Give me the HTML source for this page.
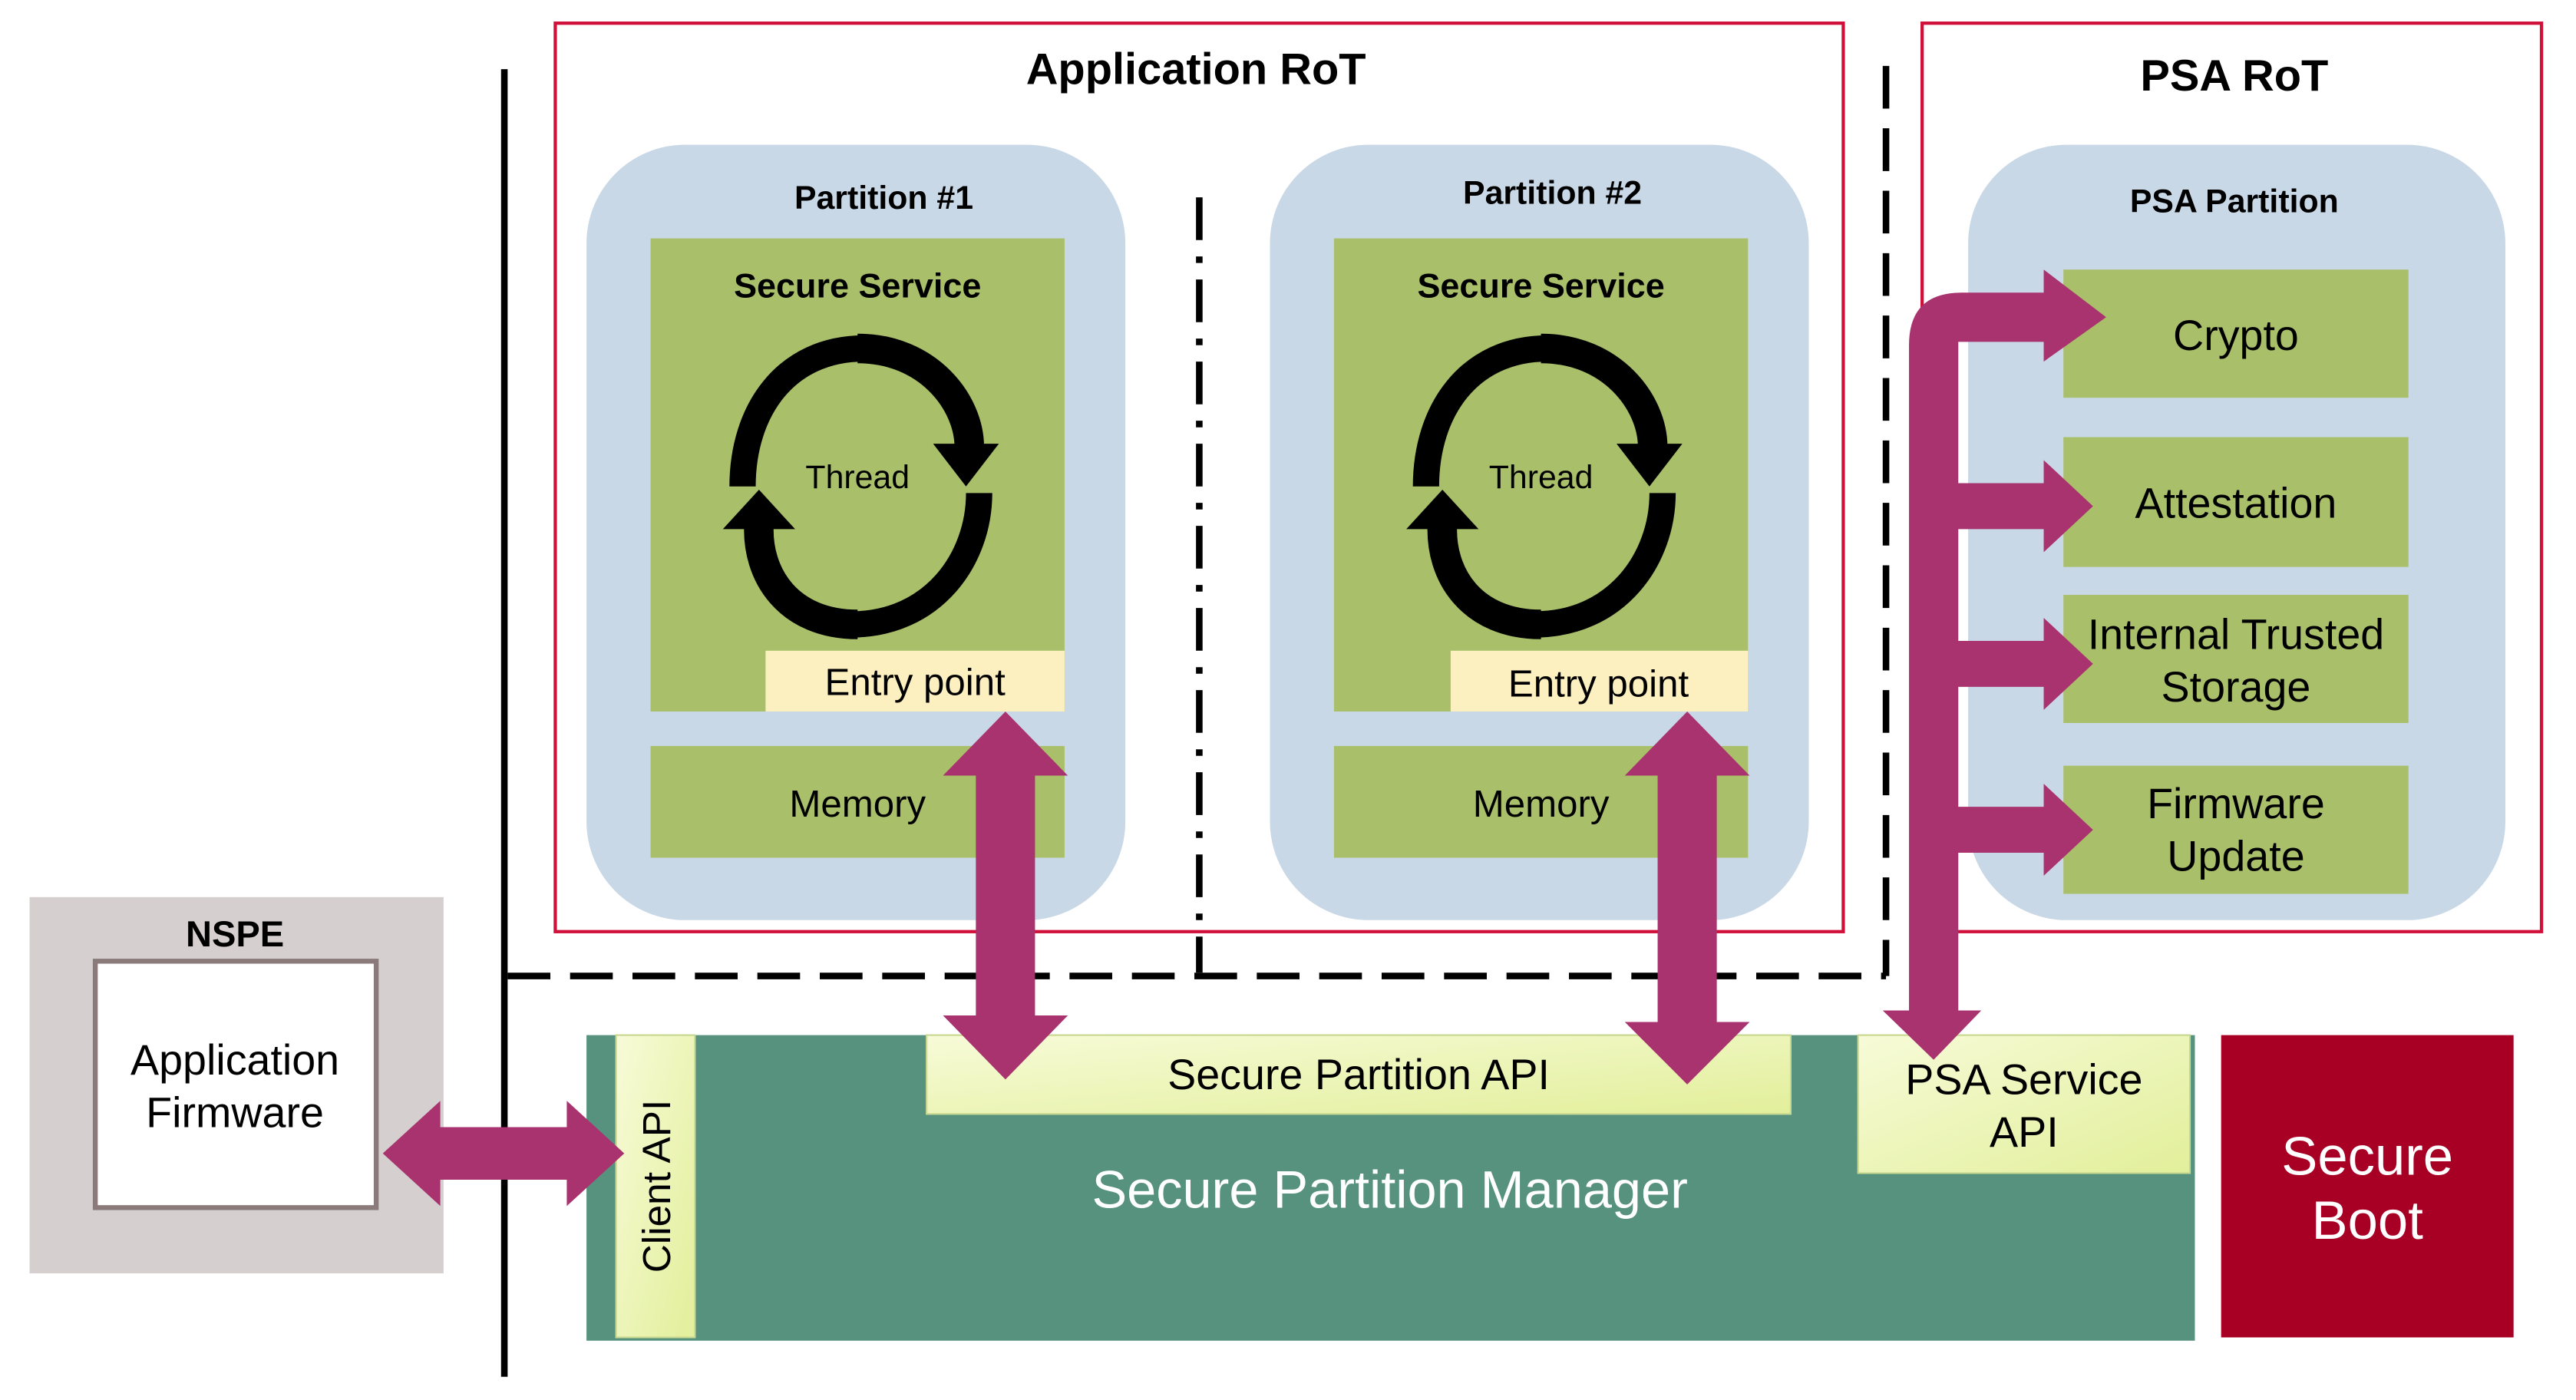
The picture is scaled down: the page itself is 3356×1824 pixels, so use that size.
<!DOCTYPE html>
<html><head><meta charset="utf-8"><style>
html,body{margin:0;padding:0;background:#fff}
svg{display:block}
text{font-family:"Liberation Sans",Arial,sans-serif}
</style></head><body>
<svg width="3356" height="1824" viewBox="0 0 1568 852" xmlns="http://www.w3.org/2000/svg">
<defs>
<linearGradient id="lg" x1="0" y1="0" x2="1" y2="1">
<stop offset="0" stop-color="#f7fbd8"/><stop offset="1" stop-color="#e2ef9a"/></linearGradient>
</defs>
<rect width="1568" height="852" fill="#fff"/>
<rect x="338" y="14" width="784" height="553" fill="none" stroke="#d0103a" stroke-width="2"/>
<text x="728" y="51" font-size="27" font-weight="bold" text-anchor="middle">Application RoT</text>
<rect x="1170" y="14" width="377" height="553" fill="none" stroke="#d0103a" stroke-width="2"/>
<text x="1360" y="55" font-size="27" font-weight="bold" text-anchor="middle">PSA RoT</text>
<line x1="307" y1="42" x2="307" y2="838" stroke="#000" stroke-width="4"/>
<line x1="730" y1="120" x2="730" y2="592" stroke="#000" stroke-width="4" stroke-dasharray="26,10,4,10"/>
<line x1="309" y1="594" x2="1148" y2="594" stroke="#000" stroke-width="4" stroke-dasharray="26,12"/>
<line x1="1148" y1="40" x2="1148" y2="594" stroke="#000" stroke-width="4" stroke-dasharray="26,12"/>
<g>
<rect x="357" y="88" width="328" height="472" rx="60" fill="#c9d8e6"/>
<text x="538" y="127" font-size="20" font-weight="bold" text-anchor="middle">Partition #1</text>
<rect x="396" y="145" width="252" height="288" fill="#a9bf6a"/>
<text x="522" y="181" font-size="21" font-weight="bold" text-anchor="middle">Secure Service</text>
<rect x="466" y="396" width="182" height="37" fill="#fdf0c0"/>
<text x="557" y="423" font-size="23" text-anchor="middle">Entry point</text>
<rect x="396" y="454" width="252" height="68" fill="#a9bf6a"/>
<text x="522" y="497" font-size="23" text-anchor="middle">Memory</text>
</g>
<g>
<rect x="773" y="88" width="328" height="472" rx="60" fill="#c9d8e6"/>
<text x="945" y="124" font-size="20" font-weight="bold" text-anchor="middle">Partition #2</text>
<rect x="812" y="145" width="252" height="288" fill="#a9bf6a"/>
<text x="938" y="181" font-size="21" font-weight="bold" text-anchor="middle">Secure Service</text>
<rect x="883" y="396" width="181" height="37" fill="#fdf0c0"/>
<text x="973" y="424" font-size="23" text-anchor="middle">Entry point</text>
<rect x="812" y="454" width="252" height="68" fill="#a9bf6a"/>
<text x="938" y="497" font-size="23" text-anchor="middle">Memory</text>
</g>
<g id="th1">
<path d="M522 212 C565 212 590 245 590 272" fill="none" stroke="#000" stroke-width="18"/>
<polygon points="568,270 608,270 588,296" fill="#000"/>
<path d="M522 380 C480 380 460 350 462 318" fill="none" stroke="#000" stroke-width="18"/>
<polygon points="440,322 484,322 462,298" fill="#000"/>
<path d="M526 212 C478 212 452 250 452 296" fill="none" stroke="#000" stroke-width="16"/>
<path d="M518 380 C568 380 596 340 596 300" fill="none" stroke="#000" stroke-width="16"/>
<text x="522" y="297" font-size="20" text-anchor="middle">Thread</text>
</g>
<use href="#th1" x="416"/>
<rect x="1198" y="88" width="327" height="472" rx="60" fill="#c9d8e6"/>
<text x="1360" y="129" font-size="20" font-weight="bold" text-anchor="middle">PSA Partition</text>
<rect x="1256" y="164" width="210" height="78" fill="#a9bf6a"/>
<text x="1361" y="213" font-size="26" text-anchor="middle">Crypto</text>
<rect x="1256" y="266" width="210" height="79" fill="#a9bf6a"/>
<text x="1361" y="315" font-size="26" text-anchor="middle">Attestation</text>
<rect x="1256" y="362" width="210" height="78" fill="#a9bf6a"/>
<text x="1361" y="395" font-size="26" text-anchor="middle">Internal Trusted</text>
<text x="1361" y="427" font-size="26" text-anchor="middle">Storage</text>
<rect x="1256" y="466" width="210" height="78" fill="#a9bf6a"/>
<text x="1361" y="498" font-size="26" text-anchor="middle">Firmware</text>
<text x="1361" y="530" font-size="26" text-anchor="middle">Update</text>
<rect x="18" y="546" width="252" height="229" fill="#d5cfcf"/>
<text x="143" y="576" font-size="22" font-weight="bold" text-anchor="middle">NSPE</text>
<rect x="58" y="585" width="171" height="150" fill="#fff" stroke="#8a7a7a" stroke-width="3"/>
<text x="143" y="654" font-size="26" text-anchor="middle">Application</text>
<text x="143" y="686" font-size="26" text-anchor="middle">Firmware</text>
<rect x="357" y="630" width="979" height="186" fill="#56927e"/>
<text x="846" y="735" font-size="32" fill="#fff" text-anchor="middle">Secure Partition Manager</text>
<rect x="375" y="630" width="48" height="184" fill="url(#lg)" stroke="#c8d890"/>
<text transform="translate(408,722) rotate(-90)" font-size="24" text-anchor="middle">Client API</text>
<rect x="564" y="630" width="526" height="48" fill="url(#lg)" stroke="#c8d890"/>
<text x="827" y="663" font-size="26" text-anchor="middle">Secure Partition API</text>
<rect x="1131" y="630" width="202" height="84" fill="url(#lg)" stroke="#c8d890"/>
<text x="1232" y="666" font-size="26" text-anchor="middle">PSA Service</text>
<text x="1232" y="698" font-size="26" text-anchor="middle">API</text>
<rect x="1352" y="630" width="178" height="184" fill="#a80024"/>
<text x="1441" y="715" font-size="33" fill="#fff" text-anchor="middle">Secure</text>
<text x="1441" y="754" font-size="33" fill="#fff" text-anchor="middle">Boot</text>
<g fill="#a8336f">
<polygon points="612,433 650,472 630,472 630,618 650,618 612,657 574,618 594,618 594,472 574,472"/>
<polygon points="1027,433 1065,472 1045,472 1045,622 1065,622 1027,660 989,622 1009,622 1009,472 989,472"/>
<polygon points="233,702 268,670 268,686 345,686 345,670 380,702 345,734 345,718 268,718 268,734"/>
<path d="M1162 615 L1162 210 Q1162 178 1194 178 L1244 178 L1244 164 L1282 193 L1244 220 L1244 208 L1192 208 L1192 615 L1206 615 L1177 645 L1146 615 Z"/>
<polygon points="1190,294 1244,294 1244,280 1274,308 1244,336 1244,322 1190,322"/>
<polygon points="1190,390 1244,390 1244,376 1274,404 1244,432 1244,418 1190,418"/>
<polygon points="1190,491 1244,491 1244,477 1274,505 1244,533 1244,519 1190,519"/>
</g>
</svg>
</body></html>
